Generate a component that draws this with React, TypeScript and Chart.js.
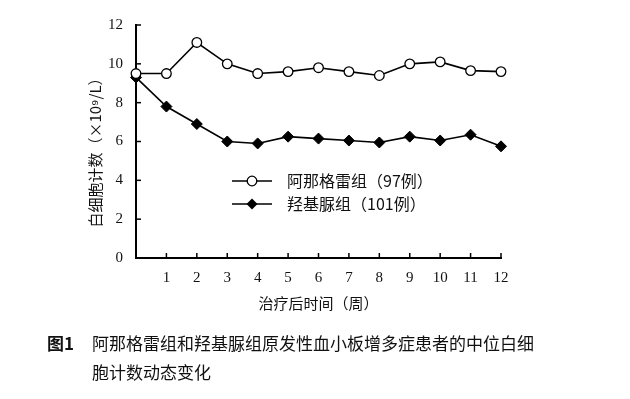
import React, { useEffect, useRef } from "react";
import { Chart, registerables } from "chart.js";

Chart.register(...registerables);

const weeks = [0, 1, 2, 3, 4, 5, 6, 7, 8, 9, 10, 11, 12];
const anagrelide = [9.5, 9.5, 11.1, 10.0, 9.5, 9.6, 9.8, 9.6, 9.4, 10.0, 10.1, 9.65, 9.6];
const hydroxyurea = [9.3, 7.8, 6.9, 6.0, 5.9, 6.25, 6.15, 6.05, 5.95, 6.25, 6.05, 6.35, 5.75];
const seriesNames = ["阿那格雷组（97例）", "羟基脲组（101例）"];
const yTickValues = [0, 2, 4, 6, 8, 10, 12];
const xTitle = "治疗后时间（周）";
const yTitle = "白细胞计数（×10⁹/L）";
const captionLabel = "图1";
const captionLines = ["阿那格雷组和羟基脲组原发性血小板增多症患者的中位白细", "胞计数动态变化"];

const CJK = '"Noto Sans CJK SC", sans-serif';
const SERIF = '"Liberation Serif", "DejaVu Serif", serif';

const decorPlugin = {
  id: "decor",
  afterDraw(chart: any) {
    const ctx = chart.ctx as CanvasRenderingContext2D;
    const xs = chart.scales.x;
    const ys = chart.scales.y;
    const area = chart.chartArea;
    ctx.save();
    ctx.strokeStyle = "#000";
    ctx.lineWidth = 1.5;
    // inward ticks
    xs.ticks.forEach((t: any) => {
      if (t.value === 0) return;
      const px = xs.getPixelForValue(t.value);
      ctx.beginPath();
      ctx.moveTo(px, area.bottom);
      ctx.lineTo(px, area.bottom - 5);
      ctx.stroke();
    });
    ys.ticks.forEach((t: any) => {
      if (t.value === 0) return;
      const py = ys.getPixelForValue(t.value);
      ctx.beginPath();
      ctx.moveTo(area.left, py);
      ctx.lineTo(area.left + 5, py);
      ctx.stroke();
    });

    ctx.fillStyle = "#111";
    // axis titles
    ctx.font = `15px ${CJK}`;
    ctx.textAlign = "center";
    ctx.textBaseline = "middle";
    ctx.fillText(xTitle, (area.left + area.right) / 2, 303);
    ctx.save();
    ctx.translate(95, 149);
    ctx.rotate(-Math.PI / 2);
    ctx.fillText(yTitle, 0, 0);
    ctx.restore();

    // legend
    const rows = [181, 204];
    chart.data.datasets.forEach((ds: any, i: number) => {
      const y = rows[i];
      ctx.strokeStyle = "#000";
      ctx.lineWidth = 1.6;
      ctx.beginPath();
      ctx.moveTo(232, y);
      ctx.lineTo(272, y);
      ctx.stroke();
      const cx = 252;
      if (ds.pointStyle === "circle") {
        ctx.beginPath();
        ctx.arc(cx, y, ds.pointRadius, 0, Math.PI * 2);
        ctx.fillStyle = "#fff";
        ctx.fill();
        ctx.lineWidth = ds.pointBorderWidth;
        ctx.stroke();
      } else {
        const r = ds.pointRadius;
        ctx.beginPath();
        ctx.moveTo(cx, y - r);
        ctx.lineTo(cx + r, y);
        ctx.lineTo(cx, y + r);
        ctx.lineTo(cx - r, y);
        ctx.closePath();
        ctx.fillStyle = "#000";
        ctx.fill();
      }
      ctx.fillStyle = "#111";
      ctx.font = `16px ${CJK}`;
      ctx.textAlign = "left";
      ctx.textBaseline = "middle";
      ctx.fillText(ds.label, 287, y);
    });

    // caption
    ctx.textAlign = "left";
    ctx.textBaseline = "middle";
    ctx.font = `bold 17px ${CJK}`;
    ctx.fillText(captionLabel, 47, 344);
    ctx.font = `17px ${CJK}`;
    ctx.fillText(captionLines[0], 92, 344);
    ctx.fillText(captionLines[1], 92, 373);
    ctx.restore();
  },
};

export default function App() {
  const ref = useRef<HTMLCanvasElement | null>(null);
  useEffect(() => {
    if (!ref.current) return;
    const chart = new Chart(ref.current, {
      type: "line",
      data: {
        datasets: [
          {
            label: seriesNames[0],
            data: weeks.map((w, i) => ({ x: w, y: anagrelide[i] })),
            borderColor: "#000",
            borderWidth: 1.6,
            pointStyle: "circle",
            pointRadius: 4.8,
            pointBorderWidth: 1.3,
            pointBackgroundColor: "#fff",
            pointBorderColor: "#000",
            tension: 0,
            clip: false as any,
          },
          {
            label: seriesNames[1],
            data: weeks.map((w, i) => ({ x: w, y: hydroxyurea[i] })),
            borderColor: "#000",
            borderWidth: 1.6,
            pointStyle: "rectRot",
            pointRadius: 5.5,
            pointBorderWidth: 1,
            pointBackgroundColor: "#000",
            pointBorderColor: "#000",
            tension: 0,
            clip: false as any,
          },
        ],
      },
      options: {
        responsive: false,
        animation: false,
        layout: { padding: { left: 0, top: 25, right: 129, bottom: 0 } },
        plugins: { legend: { display: false }, tooltip: { enabled: false } },
        scales: {
          x: {
            type: "linear",
            min: 0,
            max: 12,
            grid: { display: false, drawTicks: false },
            border: { display: true, width: 2, color: "#000" },
            ticks: {
              stepSize: 1,
              padding: 11,
              color: "#111",
              font: { family: SERIF, size: 15 },
              callback: (v: any) => (v === 0 ? "" : String(v)),
            },
            afterFit: (s: any) => {
              s.height = 141;
            },
          },
          y: {
            type: "linear",
            min: 0,
            max: 12,
            grid: { display: false, drawTicks: false },
            border: { display: true, width: 2, color: "#000" },
            afterBuildTicks: (s: any) => {
              s.ticks = yTickValues.map((v) => ({ value: v }));
            },
            ticks: {
              padding: 13,
              color: "#111",
              font: { family: SERIF, size: 15 },
            },
            afterFit: (s: any) => {
              s.width = 136;
            },
          },
        },
      },
      plugins: [decorPlugin],
    });
    return () => chart.destroy();
  }, []);
  return (
    <div style={{ position: "fixed", left: 0, top: 0, width: 630, height: 399, background: "#fff" }}>
      <canvas ref={ref} width={630} height={399} style={{ width: 630, height: 399, display: "block" }} />
    </div>
  );
}
